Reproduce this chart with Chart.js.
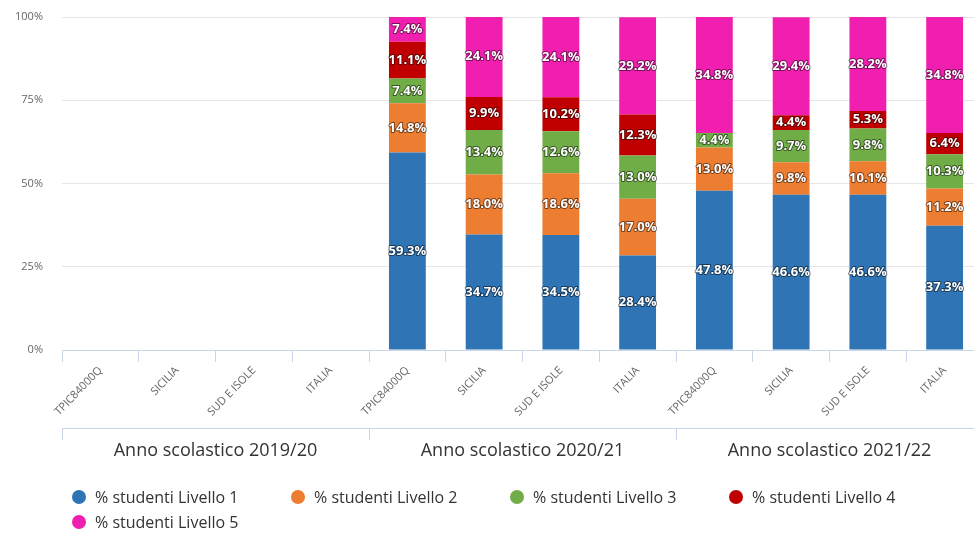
<!DOCTYPE html>
<html>
<head>
<meta charset="utf-8">
<script src="https://cdn.jsdelivr.net/npm/chart.js@4/dist/chart.umd.min.js"></script>
<style>
  html, body { margin: 0; padding: 0; background: #fff; overflow: hidden; }
  #wrap { position: relative; width: 992px; height: 536px; }
  #legend {
    position: absolute; left: 72px; top: 484px; width: 900px;
    font-family: "Open Sans", sans-serif; font-size: 16px; color: #333;
  }
  .item { display: inline-flex; align-items: center; width: 219px; height: 25px; }
  .dot { width: 14px; height: 14px; border-radius: 50%; margin-right: 9px; }
</style>
</head>
<body>
<div id="wrap">
  <canvas id="myChart" width="992" height="536"></canvas>
  <div id="legend"></div>
</div>
<script>
Chart.defaults.font.family = '"Open Sans", sans-serif';
Chart.defaults.color = '#666';

const categories = [
  'TPIC84000Q', 'SICILIA', 'SUD E ISOLE', 'ITALIA',
  'TPIC84000Q', 'SICILIA', 'SUD E ISOLE', 'ITALIA',
  'TPIC84000Q', 'SICILIA', 'SUD E ISOLE', 'ITALIA'
];
const groups = ['Anno scolastico 2019/20', 'Anno scolastico 2020/21', 'Anno scolastico 2021/22'];
const yTicks = [0, 25, 50, 75, 100];

const seriesNames = [
  '% studenti Livello 1', '% studenti Livello 2', '% studenti Livello 3',
  '% studenti Livello 4', '% studenti Livello 5'
];
const seriesColors = ['#2f75b5', '#ed7d31', '#70ad47', '#c00000', '#f01fb0'];

const livello1 = [null, null, null, null, 59.3, 34.7, 34.5, 28.4, 47.8, 46.6, 46.6, 37.3];
const livello2 = [null, null, null, null, 14.8, 18.0, 18.6, 17.0, 13.0, 9.8, 10.1, 11.2];
const livello3 = [null, null, null, null, 7.4, 13.4, 12.6, 13.0, 4.4, 9.7, 9.8, 10.3];
const livello4 = [null, null, null, null, 11.1, 9.9, 10.2, 12.3, 0, 4.4, 5.3, 6.4];
const livello5 = [null, null, null, null, 7.4, 24.1, 24.1, 29.2, 34.8, 29.4, 28.2, 34.8];
const seriesData = [livello1, livello2, livello3, livello4, livello5];

// white labels with a dark outline in the middle of each segment
const barLabels = {
  id: 'barLabels',
  afterDatasetsDraw(chart) {
    const ctx = chart.ctx;
    ctx.save();
    ctx.font = 'bold 13px "Open Sans", sans-serif';
    ctx.textAlign = 'center';
    ctx.textBaseline = 'middle';
    ctx.lineJoin = 'round';
    chart.data.datasets.forEach((ds, i) => {
      const meta = chart.getDatasetMeta(i);
      meta.data.forEach((bar, j) => {
        const v = ds.data[j];
        if (v == null || v <= 0) return;
        const txt = v.toFixed(1) + '%';
        const y = (bar.y + bar.base) / 2;
        ctx.lineWidth = 2;
        ctx.strokeStyle = 'rgba(0,0,0,0.5)';
        ctx.strokeText(txt, bar.x, y);
        ctx.fillStyle = '#fff';
        ctx.fillText(txt, bar.x, y);
      });
    });
    ctx.restore();
  }
};

const chart = new Chart('myChart', {
  type: 'bar',
  data: {
    labels: categories,
    datasets: seriesNames.map((name, i) => ({
      label: name,
      data: seriesData[i],
      backgroundColor: seriesColors[i],
      barPercentage: 0.48,
      categoryPercentage: 1.0
    }))
  },
  options: {
    responsive: false,
    animation: false,
    layout: { padding: { top: 17, right: 9, bottom: 68, left: 0 } },
    plugins: {
      legend: { display: false },
      tooltip: { enabled: false }
    },
    scales: {
      x: {
        stacked: true,
        offset: true,
        grid: { offset: true, drawOnChartArea: false, tickLength: 12, color: '#ccd6eb' },
        border: { color: '#ccd6eb' },
        ticks: { minRotation: 46, maxRotation: 46, font: { size: 11 }, color: '#666', padding: 2 },
        afterFit(scale) { scale.height = 78; }
      },
      x2: {
        type: 'category',
        labels: groups,
        position: 'bottom',
        offset: true,
        grid: { offset: true, drawOnChartArea: false, tickLength: 12, color: '#ccd6eb' },
        border: { color: '#ccd6eb' },
        ticks: { maxRotation: 0, font: { size: 18 }, color: '#333', padding: 0 },
        afterFit(scale) { scale.height = 40; }
      },
      y: {
        stacked: true,
        min: 0,
        max: 100,
        afterBuildTicks(scale) { scale.ticks = yTicks.map(v => ({ value: v })); },
        grid: { color: '#e6e6e6', tickLength: 18, tickColor: 'rgba(0,0,0,0)' },
        border: { display: false },
        ticks: { callback: v => v + '%', font: { size: 11 }, color: '#666', padding: 1 },
        afterFit(scale) { scale.width = 62; }
      }
    }
  },
  plugins: [barLabels]
});

// html legend built from the chart's datasets
const legendBox = document.getElementById('legend');
chart.data.datasets.forEach(ds => {
  const item = document.createElement('span');
  item.className = 'item';
  item.innerHTML = '<span class="dot" style="background:' + ds.backgroundColor + '"></span>' + ds.label;
  legendBox.appendChild(item);
});
</script>
</body>
</html>
